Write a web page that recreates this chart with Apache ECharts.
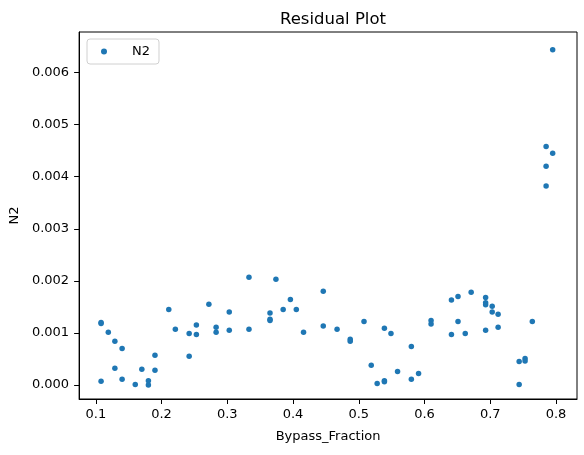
<!DOCTYPE html>
<html>
<head>
<meta charset="utf-8">
<script src="https://cdn.jsdelivr.net/npm/echarts@6/dist/echarts.min.js"></script>
<style>
  html, body { margin: 0; padding: 0; background: #fff; }
  #chart { width: 584px; height: 455px; }
</style>
</head>
<body>
<div id="chart"></div>
<script>
// bypass fraction (x) and N2 residual (y)
const bypassFraction = [
  0.108, 0.108, 0.119, 0.129, 0.140, 0.108, 0.129, 0.140, 0.160, 0.180,
  0.180, 0.170, 0.190, 0.190, 0.211, 0.221, 0.242, 0.242, 0.253, 0.253,
  0.272, 0.283, 0.283, 0.303, 0.303, 0.333, 0.333, 0.374, 0.365, 0.365,
  0.365, 0.385, 0.396, 0.405, 0.416, 0.446, 0.446, 0.467, 0.487, 0.487,
  0.508, 0.519, 0.528, 0.539, 0.539, 0.539, 0.549, 0.559, 0.580, 0.580,
  0.591, 0.610, 0.610, 0.641, 0.651, 0.671, 0.693, 0.693, 0.693, 0.703,
  0.703, 0.712, 0.651, 0.641, 0.662, 0.693, 0.712, 0.764, 0.744, 0.753,
  0.753, 0.744, 0.795, 0.785, 0.795, 0.785, 0.785
];
const n2Residual = [
  0.00120, 0.00118, 0.00101, 0.00084, 0.00070, 0.00007, 0.00032, 0.00011, 0.00001, 0.00008,
  0.00000, 0.00030, 0.00028, 0.00057, 0.00145, 0.00107, 0.00099, 0.00055, 0.00115, 0.00097,
  0.00155, 0.00111, 0.00101, 0.00140, 0.00105, 0.00207, 0.00107, 0.00203, 0.00138, 0.00126,
  0.00124, 0.00145, 0.00164, 0.00145, 0.00101, 0.00180, 0.00113, 0.00107, 0.00088, 0.00084,
  0.00122, 0.00038, 0.00003, 0.00109, 0.00008, 0.00006, 0.00099, 0.00026, 0.00074, 0.00011,
  0.00022, 0.00124, 0.00117, 0.00163, 0.00170, 0.00178, 0.00168, 0.00158, 0.00154, 0.00151,
  0.00140, 0.00136, 0.00122, 0.00097, 0.00099, 0.00105, 0.00111, 0.00122, 0.00045, 0.00051,
  0.00046, 0.00001, 0.00644, 0.00458, 0.00445, 0.00420, 0.00382
];
const xTicks = [0.1, 0.2, 0.3, 0.4, 0.5, 0.6, 0.7, 0.8];
const yTicks = [0, 0.001, 0.002, 0.003, 0.004, 0.005, 0.006];

const font = 'DejaVu Sans';
const chart = echarts.init(document.getElementById('chart'));
chart.setOption({
  animation: false,
  title: {
    text: 'Residual Plot',
    left: 328,
    top: 6,
    textAlign: 'center',
    textStyle: { fontFamily: font, fontSize: 16.5, fontWeight: 'normal', color: '#000' }
  },
  legend: {
    left: 87,
    top: 39,
    orient: 'vertical',
    padding: [6, 9, 6, 14],
    itemWidth: 6,
    itemHeight: 6,
    borderColor: '#d0d0d0',
    borderWidth: 1,
    borderRadius: 3,
    textStyle: { fontFamily: font, fontSize: 13, color: '#000', padding: [0, 0, 0, 20] },
    data: [{ name: 'N2', icon: 'circle' }]
  },
  grid: {
    left: 79, right: 7, top: 32, bottom: 56,
    show: true, borderColor: '#000', borderWidth: 1
  },
  xAxis: {
    type: 'value',
    min: 0.0746,
    max: 0.832,
    name: 'Bypass_Fraction',
    nameLocation: 'middle',
    nameGap: 31,
    nameTextStyle: { fontFamily: font, fontSize: 13, color: '#000' },
    axisLine: { show: true, onZero: false, lineStyle: { color: '#000', width: 1 } },
    axisTick: { show: true, length: 5, customValues: xTicks, lineStyle: { color: '#000' } },
    axisLabel: {
      customValues: xTicks,
      fontFamily: font, fontSize: 13, color: '#000', margin: 9,
      formatter: v => v.toFixed(1)
    },
    splitLine: { show: false }
  },
  yAxis: {
    type: 'value',
    min: -0.00027,
    max: 0.00678,
    name: 'N2',
    nameLocation: 'middle',
    nameGap: 57,
    nameTextStyle: { fontFamily: font, fontSize: 13, color: '#000' },
    axisLine: { show: true, onZero: false, lineStyle: { color: '#000', width: 1 } },
    axisTick: { show: true, length: 5, customValues: yTicks, lineStyle: { color: '#000' } },
    axisLabel: {
      customValues: yTicks,
      fontFamily: font, fontSize: 13, color: '#000', margin: 10,
      formatter: v => v.toFixed(3)
    },
    splitLine: { show: false }
  },
  series: [{
    name: 'N2',
    type: 'scatter',
    symbolSize: 5.5,
    itemStyle: { color: '#1f77b4', opacity: 1 },
    data: bypassFraction.map((x, i) => [x, n2Residual[i]])
  }]
});
</script>
</body>
</html>
